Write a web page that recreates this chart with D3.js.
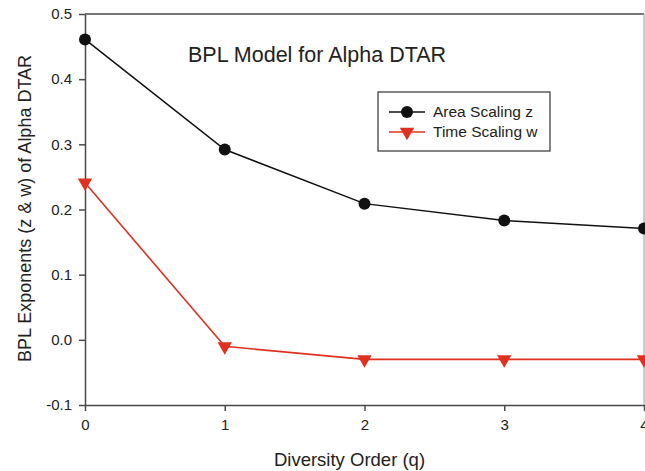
<!DOCTYPE html>
<html>
<head>
<meta charset="utf-8">
<script src="https://cdn.jsdelivr.net/npm/d3@7"></script>
<style>
  body { margin: 0; background: #fff; }
  svg { font-family: "Liberation Sans", Arial, sans-serif; }
</style>
</head>
<body>
<div class="chart"></div>
<script>
(function(){

  // data
  var orders = [0, 1, 2, 3, 4]
  var areaZ = [0.461, 0.292, 0.209, 0.183, 0.171]
  var timeW = [0.241, -0.010, -0.030, -0.030, -0.030]
  var yTicks = [-0.1, 0.0, 0.1, 0.2, 0.3, 0.4, 0.5]

  var margin = { top: 14, right: 1, bottom: 66, left: 85 }
  var width = 645 - margin.left - margin.right,
      height = 471 - margin.top - margin.bottom;

  var svg = d3.select(".chart").append("svg")
        .attr("width", 645)
        .attr("height", 471)
        .append("g")
        .attr("transform", "translate(" + margin.left + "," + margin.top + ")")

  var x = d3.scaleLinear().domain([0, 4]).range([0, width])
  var y = d3.scaleLinear().domain([-0.1, 0.5]).range([height, 0])

  var axisColor = '#4a4a4a'

  // frame (top and right)
  svg.append('line')
    .attr('x1', 0).attr('x2', width).attr('y1', 0).attr('y2', 0)
    .style('stroke', axisColor).style('stroke-width', 1.5)
  svg.append('line')
    .attr('x1', width).attr('x2', width).attr('y1', 0).attr('y2', height)
    .style('stroke', '#999').style('stroke-width', 1)

  var yFormat = function(d){ return d3.format('.1f')(d).replace('\u2212', '-') }

  var xAxis = svg.append('g')
    .attr('transform', 'translate(0,' + height + ')')
    .call(d3.axisBottom(x).tickValues(orders).tickFormat(d3.format('d')).tickSize(6).tickSizeOuter(0).tickPadding(8))
  var yAxis = svg.append('g')
    .call(d3.axisLeft(y).tickValues(yTicks).tickFormat(yFormat).tickSize(6).tickSizeOuter(0).tickPadding(7))

  ;[xAxis, yAxis].forEach(function(a){
    a.selectAll('path, line').style('stroke', axisColor).style('stroke-width', 1.5)
    a.selectAll('text').style('font-size', '15px').style('fill', '#222')
      .style('font-family', '"Liberation Sans", Arial, sans-serif')
  })

  // axis titles
  svg.append('text')
    .attr('x', width / 2 - 15)
    .attr('y', height + 61)
    .attr('text-anchor', 'middle')
    .style('font-size', '18.5px')
    .style('fill', '#222')
    .text('Diversity Order (q)')

  svg.append('text')
    .attr('transform', 'translate(' + (-54) + ',' + (height / 2 - 1) + ') rotate(-90)')
    .attr('text-anchor', 'middle')
    .style('font-size', '18px')
    .style('fill', '#222')
    .text('BPL Exponents (z & w) of Alpha DTAR')

  svg.append('text')
    .attr('x', 103)
    .attr('y', 48)
    .style('font-size', '21.5px')
    .style('fill', '#222')
    .text('BPL Model for Alpha DTAR')

  var line = d3.line()
    .x(function(d, i){ return x(orders[i]) })
    .y(function(d){ return y(d) })

  var tri = d3.symbol().type(d3.symbolTriangle).size(90)

  // time scaling w
  svg.append('path')
    .datum(timeW)
    .attr('d', line)
    .style('fill', 'none')
    .style('stroke', '#e03020')
    .style('stroke-width', 1.6)

  svg.selectAll('.tri')
    .data(timeW)
    .enter().append('path')
    .attr('class', 'tri')
    .attr('d', tri)
    .attr('transform', function(d, i){ return 'translate(' + x(orders[i]) + ',' + y(d) + ') rotate(180)' })
    .style('fill', '#e03020')

  // area scaling z
  svg.append('path')
    .datum(areaZ)
    .attr('d', line)
    .style('fill', 'none')
    .style('stroke', '#111')
    .style('stroke-width', 1.5)

  svg.selectAll('.dot')
    .data(areaZ)
    .enter().append('circle')
    .attr('class', 'dot')
    .attr('cx', function(d, i){ return x(orders[i]) })
    .attr('cy', function(d){ return y(d) })
    .attr('r', 6)
    .style('fill', '#111')

  // legend
  var legend = svg.append('g')
    .attr('transform', 'translate(' + (378 - margin.left) + ',' + (92 - margin.top) + ')')

  legend.append('rect')
    .attr('width', 172).attr('height', 59)
    .style('fill', '#fff')
    .style('stroke', '#333')
    .style('stroke-width', 1.2)

  var items = [
    { label: 'Area Scaling z', color: '#111', shape: 'circle' },
    { label: 'Time Scaling w', color: '#e03020', shape: 'tri' }
  ]

  items.forEach(function(it, i){
    var ry = 20 + i * 20
    legend.append('line')
      .attr('x1', 11).attr('x2', 47).attr('y1', ry).attr('y2', ry)
      .style('stroke', it.color).style('stroke-width', 1.6)
    if (it.shape === 'circle') {
      legend.append('circle').attr('cx', 29).attr('cy', ry).attr('r', 6).style('fill', it.color)
    } else {
      legend.append('path').attr('d', tri)
        .attr('transform', 'translate(29,' + ry + ') rotate(180)')
        .style('fill', it.color)
    }
    legend.append('text')
      .attr('x', 55).attr('y', ry + 5)
      .style('font-size', '15.5px')
      .style('fill', '#222')
      .text(it.label)
  })

})()
</script>
</body>
</html>
